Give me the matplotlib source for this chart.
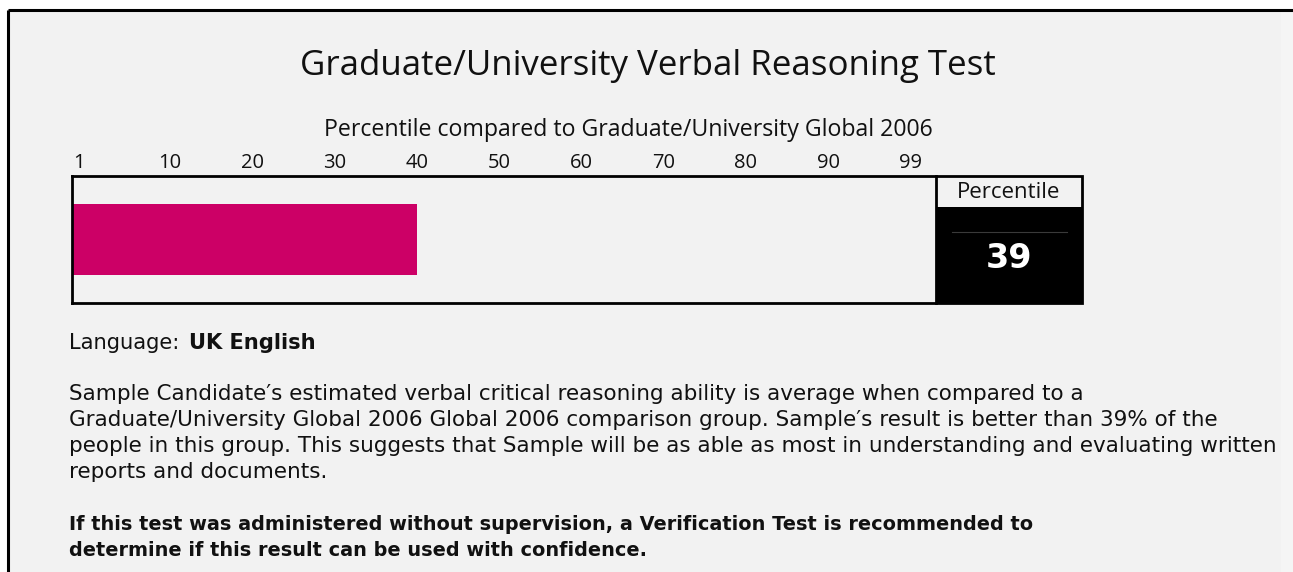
import matplotlib
matplotlib.use("Agg")
import matplotlib.pyplot as plt
import matplotlib.transforms as mtrans
import numpy as np
from matplotlib.patches import Rectangle

# ---------------- data ----------------
title = "Graduate/University Verbal Reasoning Test"
subtitle = "Percentile compared to Graduate/University Global 2006"
tick_labels = ["1", "10", "20", "30", "40", "50", "60", "70", "80", "90", "99"]
bar_end = 40          # band upper bound reached by the bar
percentile = 39       # reported percentile
language_label = "Language:"
language_value = "UK English"
body_lines = [
    "Sample Candidate\u2032s estimated verbal critical reasoning ability is average when compared to a",
    "Graduate/University Global 2006 Global 2006 comparison group. Sample\u2032s result is better than 39% of the",
    "people in this group. This suggests that Sample will be as able as most in understanding and evaluating written",
    "reports and documents.",
]
bold_lines = [
    "If this test was administered without supervision, a Verification Test is recommended to",
    "determine if this result can be used with confidence.",
]

# ---------------- figure ----------------
W, H, DPI = 1293, 572, 100
fig = plt.figure(figsize=(W / DPI, H / DPI), dpi=DPI, facecolor="white")
BG = "#f2f2f2"
BODY_FONT = "DejaVu Sans"
HEAD_FONT = "Open Sans"
TXT = "#111111"

# full-figure overlay axes in pixel coordinates
ov = fig.add_axes([0, 0, 1, 1], zorder=0)
ov.set_xlim(0, W)
ov.set_ylim(H, 0)
ov.axis("off")
ov.add_patch(Rectangle((8, 10), W - 8, H - 10, facecolor=BG, edgecolor="none"))
ov.add_patch(Rectangle((1281, 10), W - 1281, H - 10, facecolor="#f5f5f5", edgecolor="none"))
ov.plot([8, W], [10, 10], color="black", lw=2.2, solid_capstyle="butt")
ov.plot([8, 8], [10, H], color="black", lw=2.2, solid_capstyle="butt")

renderer = fig.canvas.get_renderer()


def fit_text(ax, x, y, s, target_w, size0=12, **kw):
    t = ax.text(x, y, s, fontsize=size0, **kw)
    w = t.get_window_extent(renderer=renderer).width
    t.set_fontsize(size0 * target_w / w)
    return t


# title and subtitle
fit_text(ov, 648, 66, title, 694, size0=20, ha="center", va="center",
         family=HEAD_FONT, color=TXT)
fit_text(ov, 628, 130, subtitle, 607, size0=12, ha="center", va="center",
         family=HEAD_FONT, color=TXT)

# ---------------- bar axes ----------------
L, R, T, B = 72, 936, 176, 303
ax = fig.add_axes([L / W, 1 - B / H, (R - L) / W, (B - T) / H], zorder=2)
ax.set_facecolor(BG)
tick_pos = np.arange(len(tick_labels)) * 10
xmin, xmax = -1.9, 103.1
ax.set_xlim(xmin, xmax)
ax.set_ylim(-0.5, 0.5)
ax.barh(0, bar_end - xmin, left=xmin, height=0.565, color="#cc0066", edgecolor="none")
ax.xaxis.tick_top()
ax.set_xticks(tick_pos)
ax.set_xticklabels(tick_labels, family=HEAD_FONT, fontsize=14.5, color=TXT)
ax.tick_params(axis="x", length=0, pad=2)
ax.set_yticks([])
for sp in ax.spines.values():
    sp.set_linewidth(2.0)
    sp.set_color("black")
ax.spines["right"].set_visible(False)
# first label sits a little left of its column, as in the reference
lab0 = ax.get_xticklabels()[0]
lab0.set_transform(lab0.get_transform() + mtrans.ScaledTranslation(-9 / DPI, 0, fig.dpi_scale_trans))

# ---------------- percentile box ----------------
PL, PR, PT, PH, PB = 936, 1082, 176, 207, 303
ov2 = fig.add_axes([0, 0, 1, 1], zorder=3)
ov2.set_xlim(0, W)
ov2.set_ylim(H, 0)
ov2.axis("off")
ov2.add_patch(Rectangle((PL, PH), PR - PL, PB - PH, facecolor="black", edgecolor="none"))
ov2.add_patch(Rectangle((PL, PT), PR - PL, PB - PT, facecolor="none", edgecolor="black", lw=2.0))
ov2.plot([952, 1067], [232, 232], color="#3a3a3a", lw=0.8)
fit_text(ov2, (PL + PR) / 2, 192, "Percentile", 103, size0=13, ha="center", va="center",
         family=HEAD_FONT, color=TXT)
ov2.text((PL + PR) / 2, 258, f"{percentile}", ha="center", va="center",
         fontsize=24, fontweight="bold", family=BODY_FONT, color="white")

# ---------------- body text ----------------
t1 = fit_text(ov2, 69, 343, language_label, 110, size0=12, ha="left", va="center",
              family=BODY_FONT, color=TXT)
ov2.text(189, 343, language_value, ha="left", va="center", fontsize=t1.get_fontsize(),
         fontweight="bold", family=BODY_FONT, color=TXT)

t2 = fit_text(ov2, 69, 394 + 2 * 26, body_lines[2], 1200, size0=12, ha="left", va="center",
              family=BODY_FONT, color=TXT)
fsb = t2.get_fontsize()
for i, line in enumerate(body_lines):
    if i == 2:
        continue
    ov2.text(69, 394 + i * 26, line, ha="left", va="center", fontsize=fsb,
             family=BODY_FONT, color=TXT)

t3 = fit_text(ov2, 69, 524, bold_lines[0], 955, size0=12, ha="left", va="center",
              family=BODY_FONT, fontweight="bold", color=TXT)
ov2.text(69, 550, bold_lines[1], ha="left", va="center", fontsize=t3.get_fontsize(),
         fontweight="bold", family=BODY_FONT, color=TXT)

fig.savefig("out.png", dpi=DPI, facecolor="white")
